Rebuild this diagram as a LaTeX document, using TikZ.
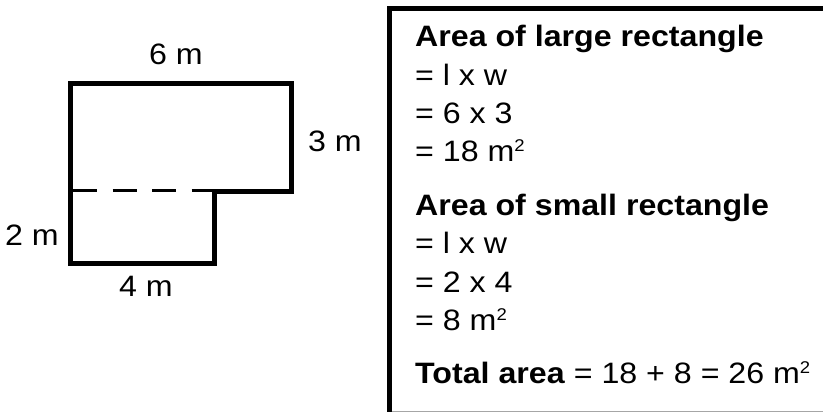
\documentclass[tikz,border=0pt]{standalone}
\usepackage{fontspec}
\setmainfont[FakeStretch=1.09]{Liberation Sans}
\newcommand\msq{m\raisebox{9.5pt}{\fontsize{17}{17}\selectfont 2}}
\begin{document}
\begin{tikzpicture}[x=1pt,y=-1pt,
  txt/.style={inner sep=0pt,anchor=base west,font=\fontsize{29.5}{34}\selectfont},
  lbl/.style={inner sep=0pt,anchor=base,font=\fontsize{29.5}{34}\selectfont},
  outline/.style={line width=5pt,line join=miter}]
\useasboundingbox (0,0) rectangle (823,412);
% shape
\coordinate (tl) at (70.8,84);
\coordinate (tr) at (291,84);
\coordinate (sr) at (291,191.5);
\coordinate (si) at (214.5,191.5);
\coordinate (bi) at (214.5,263);
\coordinate (bl) at (70.8,263);
\coordinate (dl) at (73,190.5);
\coordinate (dr) at (214.5,190.5);
\draw[outline] (tl) -- (tr) -- (sr) -- (si) -- (bi) -- (bl) -- cycle;
\draw[line width=3pt,dash pattern=on 24pt off 15.5pt] (dl) -- (dr);
\node[lbl] (six) at (176,64.5) {6 m};
\node[lbl] (three) at (335,152) {3 m};
\node[lbl] (two) at (32,245) {2 m};
\node[lbl] (four) at (146,296.5) {4 m};
% box
\coordinate (bxb) at (389,412);
\coordinate (bxt) at (389,9);
\coordinate (bxr) at (826,9);
\draw[line width=5pt,line join=miter] (bxb) -- (bxt) -- (bxr);
\draw[line width=1.2pt,gray!70] (391.5,411.4) -- (823,411.4);
\node[txt] (t1) at (415,47) {\textbf{Area of large rectangle}};
\node[txt] (t2) at (415,85.5) {= l x w};
\node[txt] (t3) at (415,123.5) {= 6 x 3};
\node[txt] (t4) at (415,161.5) {= 18 \msq};
\node[txt] (t5) at (415,215) {\textbf{Area of small rectangle}};
\node[txt] (t6) at (415,253) {= l x w};
\node[txt] (t7) at (415,292) {= 2 x 4};
\node[txt] (t8) at (415,330) {= 8 \msq};
\node[txt] (t9) at (415,383) {\textbf{Total area} = 18 + 8 = 26 \msq};
\end{tikzpicture}
\end{document}
